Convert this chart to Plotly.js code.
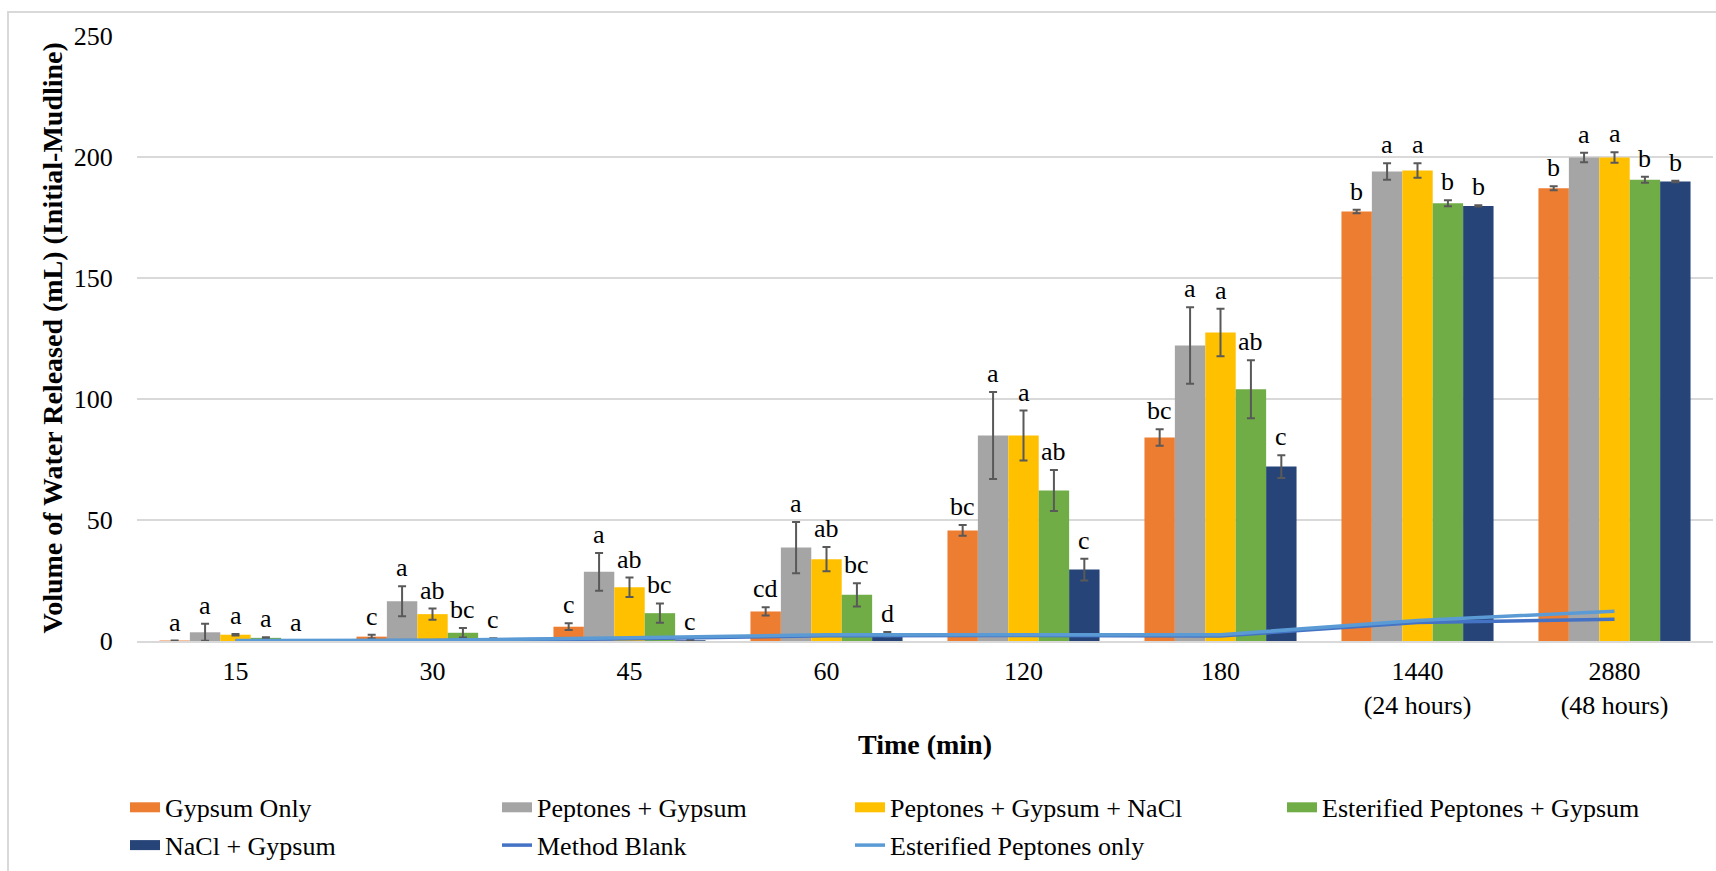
<!DOCTYPE html>
<html>
<head>
<meta charset="utf-8">
<script src="https://cdn.plot.ly/plotly-3.0.1.min.js"></script>
<style>
  html, body { margin: 0; padding: 0; background: #fff; overflow: hidden; }
  #chart { width: 1716px; height: 871px; }
  #frame { position: absolute; left: 7px; top: 11px; width: 1760px; height: 920px;
           border: 2px solid #D9D9D9; pointer-events: none; }
</style>
</head>
<body>
<div id="chart"></div>
<div id="frame"></div>
<script>
// ---- data ----
const categories = ['15', '30', '45', '60', '120', '180', '1440', '2880'];
const tickLabels = ['15', '30', '45', '60', '120', '180', '1440<br>(24 hours)', '2880<br>(48 hours)'];
const yTitle = 'Volume of Water Released (mL) (Initial-Mudline)';
const xTitle = 'Time (min)';

const seriesNames = ['Gypsum Only', 'Peptones + Gypsum', 'Peptones + Gypsum + NaCl',
                     'Esterified Peptones + Gypsum', 'NaCl + Gypsum'];

const gypsumOnly            = [0.2, 1.8, 5.9, 12.2, 45.7, 84.1, 177.5, 187.1];
const gypsumOnlyErr         = [0.0, 0.8, 1.4, 1.7, 2.2, 3.4, 0.7, 0.8];
const peptonesGypsum        = [3.6, 16.4, 28.6, 38.6, 84.9, 122.1, 194.0, 199.8];
const peptonesGypsumErr     = [3.5, 6.2, 7.8, 10.6, 18.0, 15.8, 3.4, 2.0];
const peptonesGypsumNaCl    = [2.6, 11.1, 22.2, 33.8, 84.9, 127.5, 194.4, 199.8];
const peptonesGypsumNaClErr = [0.3, 2.3, 4.0, 5.0, 10.3, 9.8, 3.0, 2.2];
const esterifiedGypsum      = [1.3, 3.4, 11.5, 19.1, 62.2, 104.0, 180.9, 190.6];
const esterifiedGypsumErr   = [0.3, 2.0, 4.0, 4.8, 8.5, 12.0, 1.2, 1.2];
const naclGypsum            = [0.1, 0.8, 0.3, 2.8, 29.5, 72.1, 179.8, 189.9];
const naclGypsumErr         = [0.0, 0.3, 0.2, 0.9, 4.5, 4.7, 0.3, 0.3];

const methodBlank    = [0.0, 0.2, 0.9, 2.2, 2.3, 2.1, 7.6, 9.0];
const esterifiedOnly = [0.2, 0.3, 1.3, 2.6, 2.6, 2.6, 8.5, 12.3];

const gypsumOnlyLetters         = ['a', 'c', 'c', 'cd', 'bc', 'bc', 'b', 'b'];
const peptonesGypsumLetters     = ['a', 'a', 'a', 'a', 'a', 'a', 'a', 'a'];
const peptonesGypsumNaClLetters = ['a', 'ab', 'ab', 'ab', 'a', 'a', 'a', 'a'];
const esterifiedGypsumLetters   = ['a', 'bc', 'bc', 'bc', 'ab', 'ab', 'b', 'b'];
const naclGypsumLetters         = ['a', 'c', 'c', 'd', 'c', 'c', 'b', 'b'];

// ---- styling ----
const barColors = ['#ED7D31', '#A5A5A5', '#FFC000', '#70AD47', '#264478'];
const legendIds = ['legend', 'legend2', 'legend3', 'legend4', 'legend'];
const FONT = 'Liberation Serif';
const BARGAP = 0.228;
const W = 1716, H = 871;
const M = { l: 137, r: 3, t: 36, b: 230 };

const values  = [gypsumOnly, peptonesGypsum, peptonesGypsumNaCl, esterifiedGypsum, naclGypsum];
const errors  = [gypsumOnlyErr, peptonesGypsumErr, peptonesGypsumNaClErr, esterifiedGypsumErr, naclGypsumErr];
const letters = [gypsumOnlyLetters, peptonesGypsumLetters, peptonesGypsumNaClLetters,
                 esterifiedGypsumLetters, naclGypsumLetters];

const traces = [];
values.forEach((v, j) => {
  traces.push({
    type: 'bar', name: seriesNames[j], x: categories, y: v,
    marker: { color: barColors[j], line: { width: 0 } },
    error_y: { type: 'data', array: errors[j], visible: true, color: '#595959', thickness: 2, width: 4 },
    showlegend: false,
    hoverinfo: 'x+y+name'
  });
});
traces.push({
  type: 'scatter', mode: 'lines', name: 'Method Blank', x: categories, y: methodBlank,
  line: { color: '#4472C4', width: 3.5 }, legend: 'legend2', legendgroup: 'g5'
});
traces.push({
  type: 'scatter', mode: 'lines', name: 'Esterified Peptones only', x: categories, y: esterifiedOnly,
  line: { color: '#5B9BD5', width: 3.5 }, legend: 'legend3', legendgroup: 'g6'
});
// legend swatches for the bar series (wide rectangular keys, as in the original)
seriesNames.forEach((nm, j) => {
  traces.push({
    type: 'scatter', mode: 'lines', name: nm, x: [categories[0]], y: [null],
    line: { color: barColors[j], width: 14 }, hoverinfo: 'skip',
    legend: legendIds[j], legendgroup: 'g' + j, legendrank: j
  });
});

// significance letters above each error bar
const nSeries = values.length;
const barW = (1 - BARGAP) / nSeries;
const annotations = [];
values.forEach((v, j) => {
  v.forEach((val, i) => {
    annotations.push({
      xref: 'x', yref: 'y',
      x: i + (j - (nSeries - 1) / 2) * barW,
      y: val + errors[j][i],
      text: letters[j][i], showarrow: false,
      xanchor: 'center', yanchor: 'bottom', yshift: 2,
      font: { family: FONT, size: 26, color: '#000' }
    });
  });
});
// y-axis title (placed left of the tick labels)
annotations.push({
  xref: 'paper', yref: 'paper', x: (52 - M.l) / (W - M.l - M.r), y: 0.5,
  xanchor: 'center', yanchor: 'middle', textangle: -90, showarrow: false,
  text: '<b>' + yTitle + '</b>',
  font: { family: FONT, size: 28, color: '#000' }
});

const legendBase = {
  orientation: 'v', xref: 'container', yref: 'container',
  xanchor: 'left', yanchor: 'top', y: 0.100,
  bgcolor: 'rgba(0,0,0,0)', borderwidth: 0,
  font: { family: FONT, size: 26, color: '#000' },
  tracegroupgap: 1, itemclick: false, itemdoubleclick: false
};

const layout = {
  width: W, height: H,
  margin: { l: M.l, r: M.r, t: M.t, b: M.b, autoexpand: false },
  paper_bgcolor: '#fff', plot_bgcolor: '#fff',
  barmode: 'group', bargap: BARGAP, bargroupgap: 0,
  font: { family: FONT, size: 26, color: '#000' },
  showlegend: true,
  legend:  Object.assign({}, legendBase, { x: 125 / W }),
  legend2: Object.assign({}, legendBase, { x: 497 / W }),
  legend3: Object.assign({}, legendBase, { x: 850 / W }),
  legend4: Object.assign({}, legendBase, { x: 1282 / W }),
  xaxis: {
    type: 'category', tickmode: 'array', tickvals: categories, ticktext: tickLabels,
    showline: true, linecolor: '#D9D9D9', linewidth: 1.5, showgrid: false,
    ticks: 'outside', ticklen: 6, tickcolor: 'rgba(0,0,0,0)',
    tickfont: { family: FONT, size: 26, color: '#000' },
    title: { text: '<b>' + xTitle + '</b>', font: { family: FONT, size: 28, color: '#000' }, standoff: 16 },
    automargin: true
  },
  yaxis: {
    range: [0, 250], dtick: 50, tick0: 0, showgrid: true, gridcolor: '#D9D9D9', gridwidth: 1.5,
    zeroline: false, showline: false,
    ticks: 'outside', ticklen: 18, tickcolor: 'rgba(0,0,0,0)',
    tickfont: { family: FONT, size: 26, color: '#000' },
    automargin: false
  },
  annotations: annotations
};

Plotly.newPlot('chart', traces, layout, { displayModeBar: false, staticPlot: true });
</script>
</body>
</html>
